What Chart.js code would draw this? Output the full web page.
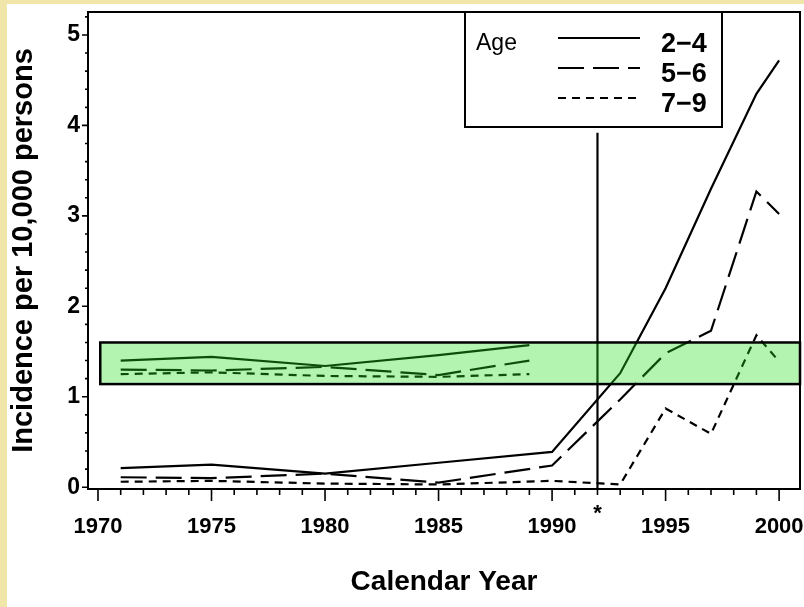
<!DOCTYPE html>
<html><head><meta charset="utf-8">
<script src="https://cdn.jsdelivr.net/npm/chart.js@4"></script>
<style>html,body{margin:0;padding:0;background:#fff;}canvas{display:block;}</style>
</head><body>
<canvas id="c" width="804" height="607"></canvas>
<script>
// ---- data ----
const years   = [1971, 1975, 1980, 1985, 1990, 1993, 1995, 1997, 1999, 2000];
const age2to4 = [0.21, 0.25, 0.15, 0.27, 0.39, 1.26, 2.20, 3.30, 4.35, 4.72];
const age5to6 = [0.11, 0.10, 0.15, 0.05, 0.24, 0.97, 1.48, 1.73, 3.27, 3.02];
const age7to9 = [0.06, 0.07, 0.04, 0.03, 0.07, 0.03, 0.87, 0.59, 1.68, 1.39];
const insetYears = [1971, 1975, 1980, 1985, 1989];
const inset2to4  = [1.40, 1.44, 1.34, 1.46, 1.57];
const inset5to6  = [1.30, 1.29, 1.33, 1.24, 1.40];
const inset7to9  = [1.25, 1.27, 1.23, 1.22, 1.25];
const seriesLabels = ['2\u22124', '5\u22126', '7\u22129'];
const legendTitle = 'Age';
const xTickLabels = [1970, 1975, 1980, 1985, 1990, 1995, 2000];
const yTickLabels = [0, 1, 2, 3, 4, 5];
const xTitle = 'Calendar Year';
const yTitle = 'Incidence per 10,000 persons';
const referenceYear = 1992;
const referenceTop = 3.92;
const referenceMark = '*';
const bandStart = 1970.1;
const bandLow = 1.14;
const bandHigh = 1.60;
const xMin = 1969.56, xMax = 2000.92;
const yMin = -0.02, yMax = 5.254;

// ---- styles ----
const FONT = '"Liberation Sans", Arial, Helvetica, sans-serif';
const DASHES = [[], [26, 9], [8, 6]];
function pts(xs, ys) { return xs.map((x, i) => ({ x: x, y: ys[i] })); }
function lineDs(label, data, dash) {
  return { label: label, data: data, borderColor: '#000', borderWidth: 2.2, borderDash: dash,
           pointRadius: 0, fill: false, tension: 0 };
}

const bgPlugin = {
  id: 'bg',
  beforeDraw(chart) {
    const c = chart.ctx;
    c.save();
    c.fillStyle = '#f0e6aa';
    c.fillRect(0, 0, chart.width, chart.height);
    c.fillStyle = '#ffffff';
    c.fillRect(7, 4, chart.width - 7, chart.height - 4);
    c.restore();
  }
};

const decorPlugin = {
  id: 'decor',
  afterDatasetsDraw(chart) {
    const c = chart.ctx, a = chart.chartArea;
    const xs = chart.scales.x, ys = chart.scales.y;
    c.save();
    // translucent highlight band
    const bx0 = xs.getPixelForValue(bandStart), bx1 = a.right;
    const by0 = ys.getPixelForValue(bandHigh), by1 = ys.getPixelForValue(bandLow);
    c.fillStyle = 'rgba(38,226,29,0.35)';
    c.fillRect(bx0, by0, bx1 - bx0, by1 - by0);
    c.strokeStyle = '#000';
    c.lineWidth = 2.5;
    c.strokeRect(bx0, by0, bx1 - bx0, by1 - by0);
    // frame
    c.lineWidth = 2;
    c.strokeRect(a.left, a.top, a.right - a.left, a.bottom - a.top);
    // x ticks (yearly minor, 5-yearly major)
    c.lineWidth = 1.6;
    c.beginPath();
    for (let yr = 1970; yr <= 2000; yr++) {
      const px = xs.getPixelForValue(yr);
      const len = (yr % 5 === 0) ? 12 : 6;
      c.moveTo(px, a.bottom); c.lineTo(px, a.bottom + len);
    }
    // y ticks
    for (let k = 0; k <= 26; k++) {
      const v = k * 0.2;
      if (v > yMax) break;
      const py = ys.getPixelForValue(v);
      const len = (k % 5 === 0) ? 6 : 3;
      c.moveTo(a.left, py); c.lineTo(a.left - len, py);
    }
    c.stroke();
    // reference marker
    c.fillStyle = '#000';
    c.font = 'bold 22px ' + FONT;
    c.textAlign = 'center';
    c.textBaseline = 'top';
    c.fillText(referenceMark, xs.getPixelForValue(referenceYear), a.bottom + 14);
    // legend box
    const L = 465, T = a.top, R = 722, B = 127;
    c.fillStyle = '#fff';
    c.fillRect(L, T, R - L, B - T);
    c.lineWidth = 2;
    c.strokeRect(L, T, R - L, B - T);
    c.fillStyle = '#000';
    c.textAlign = 'left';
    c.textBaseline = 'alphabetic';
    c.font = '23px ' + FONT;
    c.fillText(legendTitle, 476, 50);
    const rows = [38, 68, 98];
    c.font = 'bold 27px ' + FONT;
    for (let i = 0; i < 3; i++) {
      c.beginPath();
      c.lineWidth = 1.8;
      c.setLineDash(DASHES[i]);
      c.moveTo(558, rows[i]); c.lineTo(640, rows[i]);
      c.stroke();
      c.setLineDash([]);
      c.fillText(seriesLabels[i], 661, rows[i] + 14);
    }
    c.restore();
  }
};

new Chart(document.getElementById('c'), {
  type: 'line',
  data: {
    datasets: [
      lineDs(seriesLabels[0], pts(years, age2to4), DASHES[0]),
      lineDs(seriesLabels[1], pts(years, age5to6), DASHES[1]),
      lineDs(seriesLabels[2], pts(years, age7to9), DASHES[2]),
      lineDs('', pts(insetYears, inset2to4), DASHES[0]),
      lineDs('', pts(insetYears, inset5to6), DASHES[1]),
      lineDs('', pts(insetYears, inset7to9), DASHES[2]),
      lineDs('', [{ x: referenceYear, y: yMin }, { x: referenceYear, y: referenceTop }], [])
    ]
  },
  options: {
    responsive: false,
    animation: false,
    layout: { padding: { left: 0, top: 12, right: 4, bottom: 0 } },
    plugins: { legend: { display: false }, tooltip: { enabled: false } },
    scales: {
      x: {
        type: 'linear', position: 'bottom', min: xMin, max: xMax,
        afterBuildTicks(s) { s.ticks = xTickLabels.map(v => ({ value: v })); },
        afterFit(s) { s.height = 118; s.paddingLeft = 0; s.paddingRight = 0; },
        grid: { display: false, drawTicks: false },
        border: { display: false },
        ticks: { color: '#000', font: { family: FONT, size: 22, weight: 'bold' }, padding: 25,
                 maxRotation: 0, autoSkip: false, callback: v => String(v) },
        title: { display: true, text: xTitle, color: '#000',
                 font: { family: FONT, size: 28, weight: 'bold' }, padding: { top: 0, bottom: 8 } }
      },
      y: {
        type: 'linear', min: yMin, max: yMax,
        afterBuildTicks(s) { s.ticks = yTickLabels.map(v => ({ value: v })); },
        afterFit(s) { s.width = 88; s.paddingTop = 0; s.paddingBottom = 0; },
        grid: { display: false, drawTicks: false },
        border: { display: false },
        ticks: { color: '#000', font: { family: FONT, size: 23, weight: 'bold' }, padding: 8,
                 callback: v => String(v) },
        title: { display: true, text: yTitle, color: '#000',
                 font: { family: FONT, size: 29, weight: 'bold' }, padding: { top: 7, bottom: 0 } }
      }
    }
  },
  plugins: [bgPlugin, decorPlugin]
});
</script>
</body></html>
